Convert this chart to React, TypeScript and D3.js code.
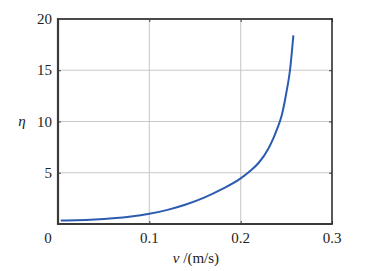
import React, { useEffect, useRef } from 'react'
import { axisBottom, axisLeft, axisRight, axisTop, curveMonotoneX, line, scaleLinear, select } from 'd3'

const speed = [0.003, 0.02, 0.04, 0.06, 0.08, 0.1, 0.12, 0.14, 0.16, 0.18, 0.2, 0.21, 0.22, 0.23, 0.236, 0.24, 0.245, 0.25, 0.254, 0.2577]
const eta = [0.33, 0.36, 0.43, 0.55, 0.73, 1.0, 1.38, 1.9, 2.57, 3.42, 4.45, 5.15, 6.0, 7.3, 8.4, 9.3, 10.6, 12.8, 15.0, 18.4]
const xTicks = [0.1, 0.2, 0.3]
const yTicks = [5, 10, 15, 20]

const App = () => {
  const ref = useRef<SVGSVGElement>(null)

  useEffect(() => {
    main()
  }, [])

  const main = () => {
    const svg = select(ref.current)
    svg.selectAll('*').remove()

    const left = 58,
      right = 332,
      top = 19,
      bottom = 224

    const x = scaleLinear().domain([0, 0.3]).range([left, right])
    const y = scaleLinear().domain([0, 20]).range([bottom, top])

    // grid
    svg.append('g')
      .selectAll('line')
      .data([0.1, 0.2])
      .enter()
      .append('line')
      .attr('x1', (d) => x(d))
      .attr('x2', (d) => x(d))
      .attr('y1', top)
      .attr('y2', bottom)
      .attr('stroke', '#d2d2d2')
      .attr('stroke-width', 1.3)

    svg.append('g')
      .selectAll('line')
      .data([5, 10, 15])
      .enter()
      .append('line')
      .attr('x1', left)
      .attr('x2', right)
      .attr('y1', (d) => y(d))
      .attr('y2', (d) => y(d))
      .attr('stroke', '#c8c8c8')
      .attr('stroke-width', 1.1)

    // small inward ticks on all four sides
    const tickStyle = (g) => {
      g.select('.domain').remove()
      g.selectAll('text').remove()
      g.selectAll('line').attr('stroke', '#444')
    }
    svg.append('g').attr('transform', `translate(0,${bottom})`)
      .call(axisBottom(x).tickValues(xTicks).tickSize(-3)).call(tickStyle)
    svg.append('g').attr('transform', `translate(0,${top})`)
      .call(axisTop(x).tickValues(xTicks).tickSize(-3)).call(tickStyle)
    svg.append('g').attr('transform', `translate(${left},0)`)
      .call(axisLeft(y).tickValues(yTicks).tickSize(-3)).call(tickStyle)
    svg.append('g').attr('transform', `translate(${right},0)`)
      .call(axisRight(y).tickValues(yTicks).tickSize(-3)).call(tickStyle)

    // frame
    svg.append('line').attr('x1', left).attr('x2', right).attr('y1', top).attr('y2', top)
      .attr('stroke', '#4a4a4a').attr('stroke-width', 2)
    svg.append('line').attr('x1', right).attr('x2', right).attr('y1', top - 1).attr('y2', bottom + 1)
      .attr('stroke', '#222').attr('stroke-width', 1.5)
    svg.append('line').attr('x1', left).attr('x2', right).attr('y1', bottom).attr('y2', bottom)
      .attr('stroke', '#3a3a3a').attr('stroke-width', 2.2)
    svg.append('line').attr('x1', left).attr('x2', left).attr('y1', top - 1).attr('y2', bottom + 1)
      .attr('stroke', '#3a3a3a').attr('stroke-width', 2.2)

    // tick labels
    const font = "'Liberation Serif', Tinos, 'Times New Roman', 'DejaVu Serif', serif"
    const label = (sel) =>
      sel.attr('font-size', 15).attr('fill', '#222').style('font-family', font)

    svg.append('g')
      .selectAll('text')
      .data(xTicks)
      .enter()
      .append('text')
      .attr('x', (d) => x(d))
      .attr('y', 243)
      .attr('text-anchor', 'middle')
      .call(label)
      .text((d) => String(d))

    svg.append('text')
      .attr('x', x(0) - 10)
      .attr('y', 243)
      .attr('text-anchor', 'middle')
      .call(label)
      .text('0')

    svg.append('g')
      .selectAll('text')
      .data(yTicks)
      .enter()
      .append('text')
      .attr('x', 52)
      .attr('y', (d) => y(d) + 5)
      .attr('text-anchor', 'end')
      .call(label)
      .text((d) => String(d))

    // axis titles
    svg.append('text')
      .attr('x', 22)
      .attr('y', y(10) + 4)
      .attr('text-anchor', 'middle')
      .attr('font-style', 'italic')
      .call(label)
      .text('η')

    const xt = svg.append('text')
      .attr('x', 196)
      .attr('y', 263)
      .attr('text-anchor', 'middle')
      .call(label)
    xt.append('tspan').attr('font-style', 'italic').text('v')
    xt.append('tspan').text(' /(m/s)')

    // curve
    const pts = speed.map((v, i) => [v, eta[i]] as [number, number])
    svg.append('path')
      .datum(pts)
      .attr('fill', 'none')
      .attr('stroke', '#2b5cb0')
      .attr('stroke-width', 2)
      .attr('d', line<[number, number]>().x((d) => x(d[0])).y((d) => y(d[1])).curve(curveMonotoneX))
  }

  return (
    <svg
      ref={ref}
      width={371}
      height={271}
      style={{ position: 'absolute', left: 0, top: 0, background: '#fff' }}
    ></svg>
  )
}

export default App
